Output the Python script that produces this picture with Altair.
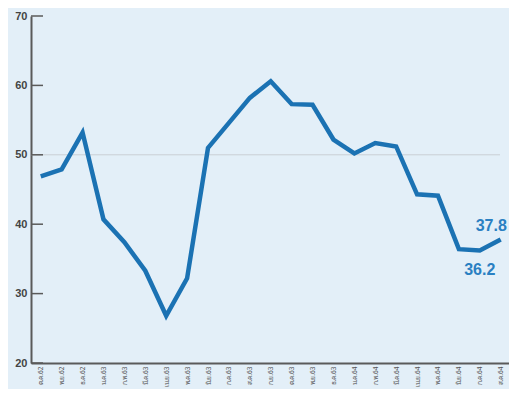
import altair as alt
import pandas as pd

months = ["ต.ค.62", "พ.ย.62", "ธ.ค.62", "ม.ค.63", "ก.พ.63", "มี.ค.63", "เม.ย.63",
          "พ.ค.63", "มิ.ย.63", "ก.ค.63", "ส.ค.63", "ก.ย.63", "ต.ค.63", "พ.ย.63",
          "ธ.ค.63", "ม.ค.64", "ก.พ.64", "มี.ค.64", "เม.ย.64", "พ.ค.64", "มิ.ย.64",
          "ก.ค.64", "ส.ค.64"]
values = [46.9, 47.9, 53.2, 40.7, 37.4, 33.3, 26.8, 32.2, 51.0, 54.6, 58.2, 60.6,
          57.3, 57.2, 52.2, 50.2, 51.7, 51.2, 44.3, 44.1, 36.4, 36.2, 37.8]
y_ticks = [20, 30, 40, 50, 60, 70]
ref_value = [50]

df = pd.DataFrame({"month": months, "value": values})
df["label"] = [f"{v:.1f}" for v in values]
ticks_df = pd.DataFrame({"t": y_ticks})
ref_df = pd.DataFrame({"r": ref_value})

xscale = alt.Scale(domain=months, padding=0.432, align=0.54)
yscale = alt.Scale(domain=[20, 70])

x_enc = alt.X("month:O", sort=months, scale=xscale, axis=alt.Axis(
    title=None, labelAngle=-90, labelFontSize=6.5, labelColor="#555555",
    labelFont="Noto Sans", ticks=False, labelPadding=3,
    domainColor="#5a5a5a", domainWidth=2))
y_enc = alt.Y("value:Q", scale=yscale, axis=alt.Axis(
    title=None, values=y_ticks, ticks=False, grid=False, labelPadding=4,
    labelFontSize=11, labelFontWeight="bold", labelColor="#444444",
    labelFont="Liberation Sans", domainColor="#5a5a5a", domainWidth=2))

line = alt.Chart(df).mark_line(color="#1b72b3", strokeWidth=4.5).encode(x=x_enc, y=y_enc)

ref = alt.Chart(ref_df).mark_rule(color="#c9cfd4", strokeWidth=1).encode(
    y=alt.Y("r:Q", scale=yscale), x=alt.value(0), x2=alt.value(469))

tick_marks = alt.Chart(ticks_df).mark_rule(color="#5a5a5a", strokeWidth=1.5).encode(
    y=alt.Y("t:Q", scale=yscale), x=alt.value(0), x2=alt.value(12))

lab_last = alt.Chart(df).transform_filter(alt.datum.month == "ส.ค.64").mark_text(
    color="#2a80c2", fontSize=16, fontWeight="bold", font="Liberation Sans",
    align="left", dx=-25, dy=-13).encode(x=x_enc, y=y_enc, text="label:N")
lab_prev = alt.Chart(df).transform_filter(alt.datum.month == "ก.ค.64").mark_text(
    color="#2a80c2", fontSize=16, fontWeight="bold", font="Liberation Sans",
    align="center", dx=0, dy=19).encode(x=x_enc, y=y_enc, text="label:N")

chart = alt.layer(ref, tick_marks, line, lab_last, lab_prev).properties(
    width=478, height=347,
    autosize=alt.AutoSizeParams(type="none"),
    padding={"left": 23, "top": 8, "right": 0, "bottom": 26},
).configure(background="#e3eff8").configure_view(stroke=None)

chart.save("out.html", embed_options={"renderer": "svg", "actions": False})
